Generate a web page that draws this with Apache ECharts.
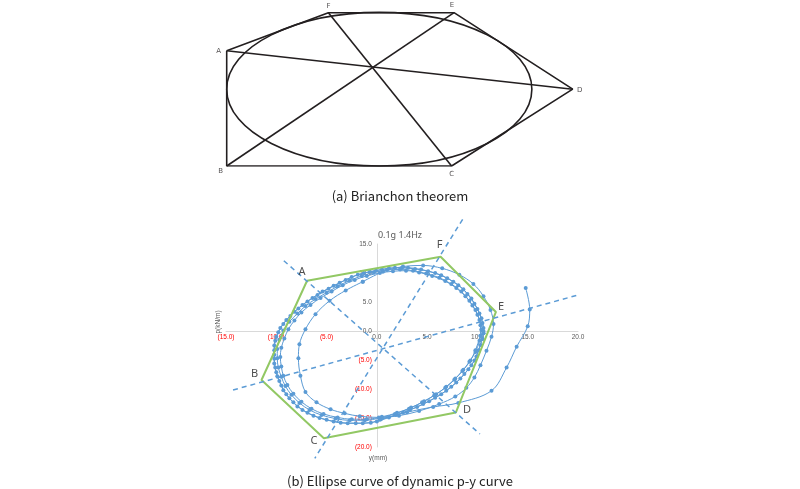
<!DOCTYPE html>
<html>
<head>
<meta charset="utf-8">
<title>Brianchon / ellipse p-y</title>
<script src="https://cdn.jsdelivr.net/npm/echarts@6/dist/echarts.min.js"></script>
<style>
  html, body { margin: 0; padding: 0; background: #fff; }
  #main { width: 800px; height: 489px; }
</style>
</head>
<body>
<div id="main"></div>
<script>
/* ---------- (a) Brianchon theorem : hexagon around an ellipse ---------- */
var briNames = ['A', 'B', 'C', 'D', 'E', 'F'];
var briX = [0, 0, 65.0, 100, 65.7, 29.4];
var briY = [33.3, 0, 0, 22.2, 44.3, 44.3];
var briEllipseCenter = [44.1, 22.2];
var briEllipseRadii = [44.1, 22.2];
// hexagon order A-F-E-D-C-B-A, diagonals A-D, B-E, C-F
var briOutline = ['A', 'F', 'E', 'D', 'C', 'B', 'A'];
var briDiagonals = [['A', 'D'], ['B', 'E'], ['C', 'F']];

/* ---------- (b) 0.1g 1.4Hz dynamic p-y loops, y(mm) / p(kN/m) ---------- */
var xTicks = [-15, -10, -5, 0, 5, 10, 15, 20];
var yTicks = [-20, -15, -10, -5, 0, 5, 10, 15];

var cycle1 = [[10.6,-0.4],[10.6,0.5],[10.4,2.2],[10.0,3.8],[9.4,5.6],[8.6,7.2],[7.6,8.5],[6.4,9.6],[5.1,10.3],[3.8,10.7],
  [2.5,10.9],[1.2,10.8],[-0.1,10.4],[-1.3,10.0],[-2.5,9.3],[-3.7,8.3],[-4.8,7.3],[-5.9,6.2],[-6.9,5.1],[-7.8,3.9],
  [-8.6,2.6],[-9.3,1.2],[-9.8,-0.2],[-10.1,-1.7],[-10.2,-3.3],[-10.2,-4.8],[-10.1,-6.3],[-9.9,-7.8],[-9.5,-9.4],[-9.0,-10.9],
  [-8.3,-12.3],[-7.4,-13.6],[-6.3,-14.6],[-5.0,-15.3],[-3.6,-15.8],[-2.1,-15.9],[-0.6,-15.8],[0.4,-15.2],[1.9,-14.5],[3.3,-13.6],
  [4.6,-12.6],[5.8,-11.5],[6.9,-10.3],[7.9,-8.9],[8.7,-7.4],[9.4,-5.9],[9.9,-4.4],[10.3,-2.4],[10.6,-0.4]];

var cycle2 = [[10.4,0.2],[10.2,1.9],[9.8,3.6],[9.2,5.2],[8.4,6.8],[7.4,8.1],[6.2,9.2],[4.9,9.9],[3.6,10.4],[2.3,10.6],
  [1.0,10.5],[-0.3,10.1],[-1.5,9.5],[-2.7,8.7],[-3.9,7.7],[-5.0,6.6],[-6.1,5.5],[-7.1,4.3],[-7.9,3.0],[-8.7,1.6],
  [-9.3,0.1],[-9.7,-1.5],[-9.9,-3.1],[-9.9,-4.7],[-9.8,-6.3],[-9.5,-7.9],[-9.1,-9.5],[-8.5,-11.0],[-7.7,-12.4],[-6.7,-13.6],
  [-5.5,-14.5],[-4.1,-15.1],[-2.7,-15.4],[-1.2,-15.4],[0.3,-15.0],[1.8,-14.3],[3.2,-13.4],[4.5,-12.3],[5.7,-11.1],[6.8,-9.8],
  [7.7,-8.4],[8.5,-6.9],[9.2,-5.3],[9.8,-3.6],[10.2,-1.7],[10.4,0.2]];

var cycle3 = [[10.5,-1.4],[10.6,0.0],[10.5,1.4],[10.2,3.0],[9.7,4.7],[9.0,6.4],[8.1,7.9],[7.0,9.1],[5.8,10.0],[4.4,10.6],
  [3.1,10.9],[1.8,10.9],[0.5,10.6],[-0.7,10.2],[-1.9,9.7],[-3.1,8.8],[-4.3,7.8],[-5.4,6.8],[-6.4,5.7],[-7.4,4.5],
  [-8.2,3.3],[-9.0,1.9],[-9.6,0.5],[-10.0,-1.0],[-10.2,-2.5],[-10.2,-4.1],[-10.2,-5.6],[-10.0,-7.1],[-9.7,-8.6],[-9.3,-10.2],
  [-8.7,-11.6],[-7.9,-13.0],[-6.9,-14.1],[-5.7,-15.0],[-4.3,-15.6],[-2.9,-15.9],[-1.4,-15.9],[0.0,-15.6],[1.2,-14.9],[2.6,-14.1],
  [4.0,-13.1],[5.2,-12.1],[6.4,-10.9],[7.4,-9.6],[8.3,-8.2],[9.1,-6.6],[9.7,-5.1],[10.1,-3.3],[10.5,-1.4]];

var cycle4 = [[10.3,-0.8],[10.3,1.0],[10.0,2.8],[9.5,4.4],[8.8,6.0],[7.9,7.4],[6.8,8.6],[5.5,9.5],[4.2,10.1],[2.9,10.4],
  [1.6,10.3],[0.3,10.0],[-1.0,9.5],[-2.2,8.8],[-3.4,7.9],[-4.5,6.8],[-5.6,5.7],[-6.6,4.5],[-7.5,3.2],[-8.2,1.8],
  [-8.8,0.3],[-9.2,-1.3],[-9.5,-2.9],[-9.6,-4.5],[-9.5,-6.1],[-9.3,-7.7],[-8.9,-9.3],[-8.3,-10.8],[-7.5,-12.2],[-6.5,-13.4],
  [-5.3,-14.3],[-3.9,-14.9],[-2.5,-15.2],[-1.0,-15.2],[0.5,-14.8],[2.0,-14.1],[3.4,-13.2],[4.7,-12.1],[5.9,-10.9],[6.9,-9.6],
  [7.8,-8.2],[8.6,-6.7],[9.3,-5.1],[9.8,-3.3],[10.3,-0.8]];

var firstCycle = [[-1.4,8.5],[-3.1,7.0],[-4.7,5.2],[-6.1,2.9],[-7.1,0.3],[-7.7,-2.3],[-7.8,-4.7],[-7.6,-7.7],[-7.1,-10.5],[-6.0,-12.3],
  [-4.6,-13.5],[-3.2,-14.2],[-1.7,-14.7],[0.2,-14.9],[2.2,-14.6],[4.2,-13.8],[6.2,-12.6],[7.8,-11.3],[8.9,-9.8],[9.7,-8.0],
  [10.3,-5.9],[10.9,-3.4],[11.4,-1.0],[11.6,1.2],[11.3,3.6],[10.6,6.0],[9.6,8.1],[8.2,9.7],[6.5,10.8],[4.6,11.3],
  [2.6,11.1],[0.6,10.2],[-1.4,8.5]];

var lastBranch = [[14.8,7.4],[15.2,3.7],[15.0,0.8],[13.9,-2.7],[12.9,-6.3],[11.4,-10.3],[8.1,-12.4],[5.6,-13.1],[3.0,-14.0],[0.3,-15.3]];

// green hexagon A-F-E-D-C-B drawn over the loops
var hexNames = ['A', 'F', 'E', 'D', 'C', 'B'];
var hexX = [-6.94, 6.34, 11.84, 7.86, -5.27, -11.47];
var hexY = [8.67, 12.81, 3.28, -14.05, -18.5, -8.45];
// dashed diagonals (end points of the drawn segments)
var diagAD = [[-9.25, 12.12], [10.25, -17.76]];
var diagFC = [[8.53, 19.26], [-6.17, -21.95]];
var diagBE = [[-14.3, -10.17], [20.37, 6.38]];

/* ---------- build ---------- */
var myChart = echarts.init(document.getElementById('main'));

var gridA = { left: 226.7, top: 12.7, width: 346, height: 153.3 };
var gridB = { left: 226, top: 244, width: 352, height: 203 };
var xMin = xTicks[0], xMax = xTicks[xTicks.length - 1];
var yMin = yTicks[0], yMax = yTicks[yTicks.length - 1];
// axes cross at the origin (Excel style); move the whole axis there
var xAxisOffset = -gridB.height * (0 - yMin) / (yMax - yMin);
var yAxisOffset = -gridB.width * (0 - xMin) / (xMax - xMin);

var briPoint = function(name) {
	var i = briNames.indexOf(name);
	return [briX[i], briY[i]];
};
var hexPoint = function(name) {
	var i = hexNames.indexOf(name);
	return [hexX[i], hexY[i]];
};

var briLabelOffset = { A: [-8, 0], B: [-6, 5], C: [0, 8], D: [7, 1], E: [-2, -8], F: [0, -7] };
var hexLabelOffset = { A: [-5, -9], F: [-1, -12], E: [5, -5], D: [11, -3], C: [-10, 3], B: [-7, -6] };

var series = [];

// (a) ellipse
series.push({
	type: 'custom',
	xAxisIndex: 0,
	yAxisIndex: 0,
	silent: true,
	data: [[briEllipseCenter[0], briEllipseCenter[1], briEllipseRadii[0], briEllipseRadii[1]]],
	encode: { x: 0, y: 1 },
	renderItem: function(params, api) {
		var c = api.coord([api.value(0), api.value(1)]);
		var s = api.size([api.value(2), api.value(3)]);
		return {
			type: 'ellipse',
			shape: { cx: c[0], cy: c[1], rx: s[0], ry: s[1] },
			style: { fill: 'none', stroke: '#231f20', lineWidth: 1.6 }
		};
	}
});
// (a) hexagon
series.push({
	type: 'line',
	xAxisIndex: 0,
	yAxisIndex: 0,
	symbol: 'none',
	lineStyle: { color: '#231f20', width: 1.6 },
	data: briOutline.map(briPoint)
});
// (a) diagonals
briDiagonals.forEach(function(d) {
	series.push({
		type: 'line',
		xAxisIndex: 0,
		yAxisIndex: 0,
		symbol: 'none',
		lineStyle: { color: '#231f20', width: 1.6 },
		data: [briPoint(d[0]), briPoint(d[1])]
	});
});
// (a) vertex letters
series.push({
	type: 'scatter',
	xAxisIndex: 0,
	yAxisIndex: 0,
	symbolSize: 0,
	data: briNames.map(function(n, i) {
		return { name: n, value: [briX[i], briY[i]], label: { offset: briLabelOffset[n] } };
	}),
	label: {
		show: true,
		position: 'inside',
		formatter: '{b}',
		color: '#231f20',
		fontSize: 7,
		fontFamily: 'DejaVu Sans'
	}
});

// (b) measured loops
[cycle1, cycle2, cycle3, cycle4, firstCycle, lastBranch].forEach(function(d) {
	series.push({
		type: 'line',
		xAxisIndex: 1,
		yAxisIndex: 1,
		smooth: 0.35,
		symbol: 'circle',
		symbolSize: 4,
		showSymbol: true,
		itemStyle: { color: '#5b9bd5' },
		lineStyle: { color: '#5b9bd5', width: 1 },
		data: d,
		z: 3
	});
});

// (b) green hexagon
series.push({
	type: 'line',
	xAxisIndex: 1,
	yAxisIndex: 1,
	symbol: 'none',
	clip: false,
	lineStyle: { color: '#92c864', width: 2 },
	data: hexNames.concat(['A']).map(hexPoint),
	z: 4
});
// (b) dashed diagonals
[diagAD, diagFC, diagBE].forEach(function(d) {
	series.push({
		type: 'line',
		xAxisIndex: 1,
		yAxisIndex: 1,
		symbol: 'none',
		clip: false,
		lineStyle: { color: '#5b9bd5', width: 1.5, type: [5, 4] },
		data: d,
		z: 4
	});
});
// (b) vertex letters
series.push({
	type: 'scatter',
	xAxisIndex: 1,
	yAxisIndex: 1,
	symbolSize: 0,
	clip: false,
	data: hexNames.map(function(n, i) {
		return { name: n, value: [hexX[i], hexY[i]], label: { offset: hexLabelOffset[n] } };
	}),
	label: {
		show: true,
		position: 'inside',
		formatter: '{b}',
		color: '#222',
		fontSize: 11,
		fontFamily: 'Noto Sans'
	},
	z: 5
});

var tickLabel = function(v) {
	if (v < 0) {
		return '{neg|(' + Math.abs(v).toFixed(1) + ')}';
	}
	return v.toFixed(1);
};

var option = {
	animation: false,
	backgroundColor: '#ffffff',
	title: [
		{
			text: '(a) Brianchon theorem',
			left: 'center',
			top: 185,
			textStyle: { fontSize: 13, fontWeight: 'normal', color: '#222', fontFamily: 'Noto Sans CJK KR' }
		},
		{
			text: '0.1g 1.4Hz',
			left: 'center',
			top: 226,
			textStyle: { fontSize: 9, fontWeight: 'normal', color: '#595959', fontFamily: 'Noto Sans' }
		},
		{
			text: '(b) Ellipse curve of dynamic p-y curve',
			left: 'center',
			top: 470,
			textStyle: { fontSize: 13, fontWeight: 'normal', color: '#222', fontFamily: 'Noto Sans CJK KR' }
		}
	],
	grid: [gridA, gridB],
	xAxis: [
		{ gridIndex: 0, type: 'value', min: 0, max: 100, show: false },
		{
			gridIndex: 1,
			type: 'value',
			position: 'bottom',
			offset: xAxisOffset,
			min: xMin,
			max: xMax,
			interval: 5,
			axisLine: { onZero: false, lineStyle: { color: '#d9d9d9', width: 1 } },
			axisTick: { show: false },
			splitLine: { show: false },
			axisLabel: {
				margin: 3,
				fontSize: 6.5,
				color: '#595959',
				fontFamily: 'Liberation Sans',
				formatter: tickLabel,
				rich: { neg: { color: '#ff0000', fontSize: 6.5, fontFamily: 'Liberation Sans' } }
			}
		}
	],
	yAxis: [
		{ gridIndex: 0, type: 'value', min: 0, max: 44.3, show: false },
		{
			gridIndex: 1,
			type: 'value',
			position: 'left',
			offset: yAxisOffset,
			min: yMin,
			max: yMax,
			interval: 5,
			axisLine: { onZero: false, lineStyle: { color: '#d9d9d9', width: 1 } },
			axisTick: { show: false },
			splitLine: { show: false },
			axisLabel: {
				margin: 5,
				fontSize: 6.5,
				color: '#595959',
				fontFamily: 'Liberation Sans',
				formatter: tickLabel,
				rich: { neg: { color: '#ff0000', fontSize: 6.5, fontFamily: 'Liberation Sans' } }
			}
		}
	],
	graphic: [
		{
			type: 'text',
			x: 378,
			y: 458,
			style: { text: 'y(mm)', fontSize: 6.5, fill: '#595959', align: 'center', verticalAlign: 'middle', fontFamily: 'Liberation Sans' }
		},
		{
			type: 'text',
			x: 218,
			y: 322,
			rotation: Math.PI / 2,
			style: { text: 'p(kN/m)', fontSize: 6.5, fill: '#595959', align: 'center', verticalAlign: 'middle', fontFamily: 'Liberation Sans' }
		}
	],
	series: series
};

myChart.setOption(option);
</script>
</body>
</html>
